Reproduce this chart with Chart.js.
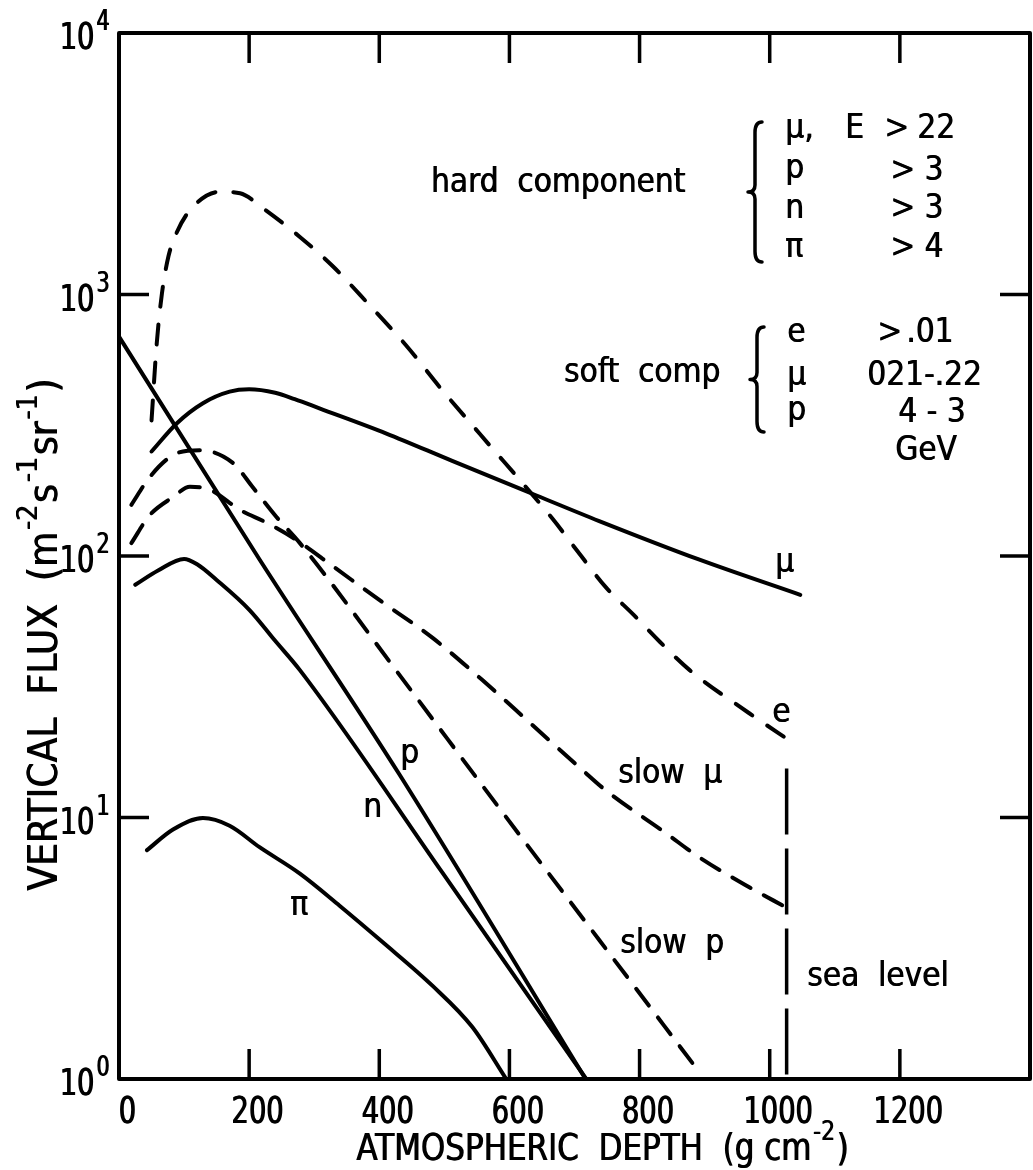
<!DOCTYPE html>
<html>
<head>
<meta charset="utf-8">
<script src="https://cdn.jsdelivr.net/npm/chart.js@4.4.1/dist/chart.umd.min.js"></script>
<style>
  html, body { margin: 0; padding: 0; background: #fff; }
  canvas { display: block; }
</style>
</head>
<body>
<canvas id="fluxChart" width="1033" height="1170"></canvas>
<script>
// ── Dados (profundidade em g cm^-2, fluxo em m^-2 s^-1 sr^-1) ──
const depthTicks = [0, 200, 400, 600, 800, 1000, 1200];
const fluxDecades = [1, 10, 100, 1000, 10000];

const muDepth = [50, 89, 129, 170, 200, 240, 270, 308, 411, 512, 635, 738, 891, 1047];
const muFlux = [251, 322, 384, 425, 434, 421, 398, 367, 294, 231, 173, 136, 97, 71];

const eDepth = [50, 58, 66, 76, 88, 109, 155, 186, 221, 278, 329, 385, 441, 497, 554, 666, 705, 748, 791, 831, 877, 968, 1037];
const eFlux = [330, 650, 1010, 1400, 1710, 2100, 2470, 2440, 2140, 1660, 1280, 910, 640, 430, 294, 139, 104, 76, 59.5, 47, 36.6, 25.1, 19.2];

const pDepth = [0, 216, 431, 717];
const pFlux = [690, 97, 14.6, 1.0];

const nDepth = [25, 60, 100, 120, 150, 201, 239, 278, 497, 718];
const nFlux = [77.6, 88, 97.5, 93, 81, 62, 47.7, 36.6, 6.15, 1.0];

const piDepth = [43, 83, 129, 170, 216, 278, 339, 405, 482, 543, 595];
const piFlux = [7.5, 9.0, 9.95, 9.3, 7.7, 6.1, 4.6, 3.34, 2.27, 1.58, 1.0];

const slowMuDepth = [19, 47, 83, 109, 140, 186, 227, 273, 328, 400, 482, 558, 635, 712, 748, 840, 891, 968, 1024];
const slowMuFlux = [112, 143, 168, 184, 179, 150, 134, 115, 91.6, 67.9, 48.6, 33.6, 22.6, 15.2, 12.7, 8.73, 7.06, 5.42, 4.55];

const slowPDepth = [19, 47, 83, 124, 175, 205, 242, 278, 431, 584, 738, 886];
const slowPFlux = [157, 200, 243, 254, 227, 184, 141, 112, 35.1, 10.9, 3.4, 1.11];

const seaLevelDepth = [1026, 1026];
const seaLevelFlux = [15.4, 1.02];

const pts = (xs, ys) => xs.map((v, i) => ({ x: v, y: ys[i] }));

function serie(xs, ys, dash) {
    return {
        data: pts(xs, ys),
        borderColor: '#000',
        borderWidth: 4,
        borderDash: dash || [],
        borderCapStyle: 'round',
        borderJoinStyle: 'round',
        pointRadius: 0,
        cubicInterpolationMode: 'monotone',
        fill: false
    };
}

const NUM = '"DejaVu Sans", sans-serif';
const TXT = '"DejaVu Sans Condensed", "DejaVu Sans", sans-serif';

// preenchimento duplo (deslocado) para engrossar um pouco o traço
function fill2(ctx, s, x, y, d) {
    ctx.fillText(s, x, y);
    ctx.fillText(s, x + d, y);
}

function txt(ctx, s, x, y, font, align) {
    ctx.save();
    ctx.font = font;
    ctx.textAlign = align || 'left';
    ctx.textBaseline = 'alphabetic';
    fill2(ctx, s, x, y, 0.8);
    ctx.restore();
}

// texto estreito (escala horizontal), estilo DIN condensado
function txtN(ctx, s, x, y, size, sx, align) {
    ctx.save();
    ctx.font = size + 'px ' + NUM;
    const w = ctx.measureText(s).width * sx;
    const x0 = align === 'center' ? x - w / 2 : align === 'right' ? x - w : x;
    ctx.translate(x0, y);
    ctx.scale(sx, 1);
    ctx.textAlign = 'left';
    ctx.textBaseline = 'alphabetic';
    fill2(ctx, s, 0, 0, 1 / sx);
    ctx.restore();
    return w;
}

// sequência de trechos (normal / expoente) ajustada a um comprimento alvo
function runs(ctx, parts, target) {
    let total = 0;
    const ws = parts.map(([s, size]) => {
        ctx.font = size + 'px ' + NUM;
        const w = ctx.measureText(s).width + 2;
        total += w;
        return w;
    });
    const sx = target / total;
    ctx.save();
    ctx.scale(sx, 1);
    let ox = 0;
    parts.forEach(([s, size, dy], i) => {
        ctx.font = size + 'px ' + NUM;
        ctx.textAlign = 'left';
        ctx.textBaseline = 'alphabetic';
        fill2(ctx, s, ox, dy, 0.9 / sx);
        ox += ws[i];
    });
    ctx.restore();
}

function brace(ctx, x, top, bottom, w) {
    const mid = (top + bottom) / 2;
    ctx.beginPath();
    ctx.moveTo(x + w, top);
    ctx.quadraticCurveTo(x, top, x, top + w * 1.5);
    ctx.lineTo(x, mid - w);
    ctx.quadraticCurveTo(x, mid, x - w, mid);
    ctx.quadraticCurveTo(x, mid, x, mid + w);
    ctx.lineTo(x, bottom - w * 1.5);
    ctx.quadraticCurveTo(x, bottom, x + w, bottom);
    ctx.stroke();
}

// ── Moldura, ticks internos, rótulos e anotações ──
const moldura = {
    id: 'moldura',
    afterDatasetsDraw(chart) {
        const { ctx, chartArea: a, scales: { x, y } } = chart;
        ctx.save();
        ctx.strokeStyle = '#000';
        ctx.fillStyle = '#000';

        // rótulos do eixo x
        depthTicks.forEach(v => {
            txtN(ctx, String(v), x.getPixelForValue(v) + 8, 1123, 38, 0.72, 'center');
        });
        // rótulos do eixo y: 10^n
        fluxDecades.forEach((v, i) => {
            const py = y.getPixelForValue(v);
            txtN(ctx, '10', 94, py + 16, 38, 0.72, 'right');
            txtN(ctx, String(i), 96, py - 3, 28, 0.74, 'left');
        });

        // título x
        ctx.save();
        ctx.translate(356, 1160);
        runs(ctx, [['ATMOSPHERIC  DEPTH  (g cm', 38, 0], ['-2', 27, -20], [')', 38, 0]], 494);
        ctx.restore();

        // título y (girado)
        ctx.save();
        ctx.translate(57, 891);
        ctx.rotate(-Math.PI / 2);
        runs(ctx, [
            ['VERTICAL  FLUX  (m', 40, 0], ['-2', 28, -20], ['s', 40, 0], ['-1', 28, -20],
            ['sr', 40, 0], ['-1', 28, -20], [')', 40, 0]
        ], 514);
        ctx.restore();

        // componente dura
        const F = '33px ' + TXT;
        txt(ctx, 'hard  component', 685, 192, F, 'right');
        txt(ctx, 'μ,', 785, 138, F);
        txt(ctx, 'E', 845, 138, F);
        txt(ctx, '>', 884, 138, F);
        txt(ctx, '22', 917, 138, F);
        txt(ctx, 'p', 785, 178, F);
        txt(ctx, '> 3', 890, 180, F);
        txt(ctx, 'n', 785, 218, F);
        txt(ctx, '> 3', 890, 218, F);
        txt(ctx, 'π', 785, 257, F);
        txt(ctx, '> 4', 890, 257, F);

        // componente mole
        txt(ctx, 'soft  comp', 720, 382, F, 'right');
        txt(ctx, 'e', 787, 342, F);
        txt(ctx, '>', 877, 342, F);
        txt(ctx, '.01', 906, 342, F);
        txt(ctx, 'μ', 787, 385, F);
        txt(ctx, '021-.22', 867, 385, F);
        txt(ctx, 'p', 787, 420, F);
        txt(ctx, '4 - 3', 898, 422, F);
        txt(ctx, 'GeV', 895, 460, F);

        // rótulos das curvas
        txt(ctx, 'μ', 775, 572, F);
        txt(ctx, 'e', 772, 722, F);
        txt(ctx, 'slow  μ', 618, 783, F);
        txt(ctx, 'slow  p', 620, 953, F);
        txt(ctx, 'p', 400, 763, F);
        txt(ctx, 'n', 363, 817, F);
        txt(ctx, 'π', 290, 915, F);
        txt(ctx, 'sea  level', 807, 986, F);

        // chaves
        ctx.lineCap = 'round';
        ctx.lineJoin = 'round';
        ctx.lineWidth = 3.5;
        brace(ctx, 755, 122, 262, 7);
        brace(ctx, 757, 327, 432, 7);

        // moldura e ticks internos
        ctx.lineCap = 'butt';
        ctx.lineWidth = 4;
        ctx.strokeRect(a.left, a.top, a.right - a.left, a.bottom - a.top);

        const seg = (x1, y1, x2, y2) => { ctx.beginPath(); ctx.moveTo(x1, y1); ctx.lineTo(x2, y2); ctx.stroke(); };
        ctx.lineWidth = 3.5;
        depthTicks.slice(1).forEach(v => {
            const px = x.getPixelForValue(v);
            seg(px, a.bottom, px, a.bottom - 30);
            seg(px, a.top, px, a.top + 30);
        });
        fluxDecades.slice(1, -1).forEach(v => {
            const py = y.getPixelForValue(v);
            seg(a.left, py, a.left + 30, py);
            seg(a.right, py, a.right - 30, py);
        });

        ctx.restore();
    }
};

const seaLine = serie(seaLevelDepth, seaLevelFlux, [66, 14]);
seaLine.borderCapStyle = 'butt';
seaLine.cubicInterpolationMode = 'default';
seaLine.borderWidth = 3.5;

new Chart(document.getElementById('fluxChart'), {
    type: 'line',
    data: {
        datasets: [
            serie(muDepth, muFlux),
            serie(eDepth, eFlux, [20, 18]),
            serie(pDepth, pFlux),
            serie(nDepth, nFlux),
            serie(piDepth, piFlux),
            serie(slowMuDepth, slowMuFlux, [21, 15]),
            serie(slowPDepth, slowPFlux, [21, 15]),
            seaLine
        ]
    },
    options: {
        responsive: false,
        animation: false,
        devicePixelRatio: 1,
        layout: { padding: { left: 119, top: 33, right: 3, bottom: 91 } },
        plugins: { legend: { display: false }, tooltip: { enabled: false } },
        scales: {
            x: { type: 'linear', min: 0, max: 1400, display: false },
            y: { type: 'logarithmic', min: 1, max: 10000, display: false }
        }
    },
    plugins: [moldura]
});
</script>
</body>
</html>
